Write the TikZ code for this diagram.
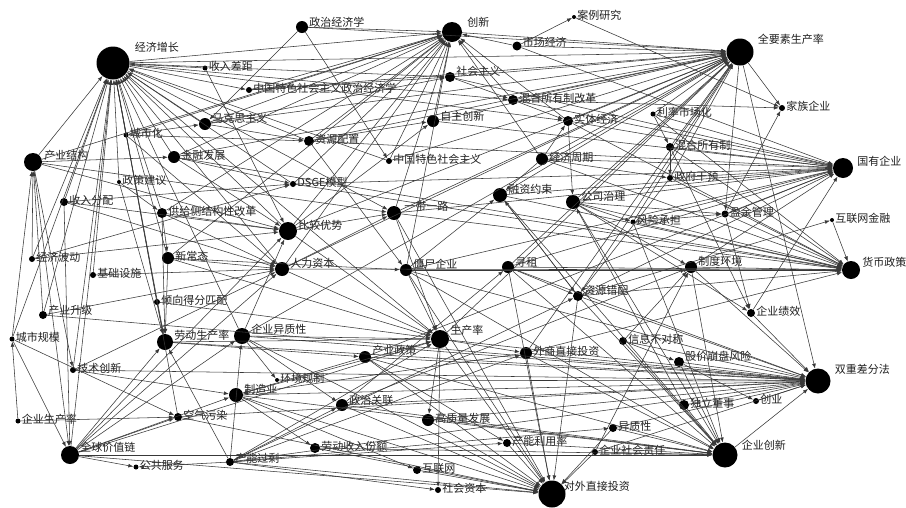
\documentclass[tikz,border=0pt]{standalone}
\usepackage{fontspec}
\setmainfont{Noto Sans CJK SC}
\usepackage{tikz}
\usetikzlibrary{arrows.meta}

\tikzset{
  dot/.style={circle, fill=black, inner sep=0pt, minimum size=#1},
  lab/.style={font=\fontsize{11}{11}\selectfont, text=black!88, inner sep=1pt, yshift=1.5pt},
  edge/.style={draw=black!78, line width=0.55pt, -{Latex[length=5pt,width=3.8pt]}},
}

\begin{document}
\begin{tikzpicture}[x=1pt,y=-1pt,label distance=0pt]
\path [use as bounding box, fill=white] (0,0) rectangle (906,507);

%% keywords
\node [dot=33pt, label={[lab,shift={(4,-14)}]right:经济增长}] (jjzz) at (113,63) {};
\node [dot=12pt, label={[lab,shift={(0,-3)}]right:政治经济学}] (zzjjx) at (302,27) {};
\node [dot=20pt, label={[lab,shift={(4,-8)}]right:创新}] (cx) at (452,32) {};
\node [dot=4pt, label={[lab]right:案例研究}] (alyj) at (574,17) {};
\node [dot=27pt, label={[lab,shift={(3,-11)}]right:全要素生产率}] (tfp) at (740,52) {};
\node [dot=5pt, label={[lab]right:收入差距}] (srcj) at (205,68) {};
\node [dot=6pt, label={[lab]right:中国特色社会主义政治经济学}] (zgjjx) at (249,90) {};
\node [dot=9pt, label={[lab,shift={(0,-2)}]right:市场经济}] (scjj) at (517,46) {};
\node [dot=10pt, label={[lab,shift={(0,-4)}]right:社会主义}] (shzy) at (450,77) {};
\node [dot=10pt, label={[lab]right:混合所有制改革}] (hhgg) at (513,100) {};
\node [dot=6pt, label={[lab]right:家族企业}] (jzqy) at (782,108) {};
\node [dot=5pt, label={[lab]right:利率市场化}] (llsc) at (653,114) {};
\node [dot=12pt, label={[lab,shift={(0,-4)}]right:马克思主义}] (mks) at (205,124) {};
\node [dot=12pt, label={[lab,shift={(0,-3)}]right:自主创新}] (zzcx) at (433,121) {};
\node [dot=10pt, label={[lab]right:实体经济}] (stjj) at (568,121) {};
\node [dot=10pt, label={[lab]right:资源配置}] (zypz) at (309,141) {};
\node [dot=5pt, label={[lab]right:城市化}] (csh) at (126,135) {};
\node [dot=8pt, label={[lab]right:混合所有制}] (hhsy) at (670,147) {};
\node [dot=6pt, label={[lab]right:中国特色社会主义}] (zgts) at (389,161) {};
\node [dot=12pt, label={[lab]right:经济周期}] (jjzq) at (542,159) {};
\node [dot=20pt, label={[lab,shift={(3,-5)}]right:国有企业}] (gyqy) at (843,168) {};
\node [dot=18pt, label={[lab,shift={(1,-5)}]right:产业结构}] (cyjg) at (33,162) {};
\node [dot=12pt, label={[lab]right:金融发展}] (jrfz) at (174,157) {};
\node [dot=4pt, label={[lab]right:政策建议}] (zcjy) at (119,182) {};
\node [dot=6pt, label={[lab]right:政府干预}] (zfgy) at (670,178) {};
\node [dot=6pt, label={[lab]right:DSGE模型}] (dsge) at (293,184) {};
\node [dot=8pt, label={[lab]right:收入分配}] (srfp) at (64,202) {};
\node [dot=14pt, label={[lab,shift={(0,-4)}]right:融资约束}] (rzys) at (500,195) {};
\node [dot=14pt, label={[lab,shift={(0,-4)}]right:公司治理}] (gszl) at (573,202) {};
\node [dot=10pt, label={[lab]right:供给侧结构性改革}] (gjc) at (162,213) {};
\node [dot=14pt, label={[lab,shift={(2,-5)}]right:一带一路}] (ydyl) at (394,213) {};
\node [dot=5pt, label={[lab]right:风险承担}] (fxcd) at (633,222) {};
\node [dot=7pt, label={[lab]right:盈余管理}] (yygl) at (725,214) {};
\node [dot=4pt, label={[lab]right:互联网金融}] (hljr) at (832,220) {};
\node [dot=18pt, label={[lab,shift={(0,-4)}]right:比较优势}] (bjys) at (288,231) {};
\node [dot=12pt, label={[lab]right:新常态}] (xct) at (168,258) {};
\node [dot=6pt, label={[lab]right:经济波动}] (jjbd) at (32,259) {};
\node [dot=6pt, label={[lab]right:基础设施}] (jcss) at (93,275) {};
\node [dot=14pt, label={[lab,shift={(0,-4)}]right:人力资本}] (rlzb) at (282,269) {};
\node [dot=12pt, label={[lab,shift={(0,-4)}]right:僵尸企业}] (jsqy) at (406,270) {};
\node [dot=12pt, label={[lab,shift={(0,-3)}]right:寻租}] (xz) at (508,267) {};
\node [dot=12pt, label={[lab,shift={(0,-4)}]right:制度环境}] (zdhj) at (691,267) {};
\node [dot=18pt, label={[lab,shift={(1,-6)}]right:货币政策}] (hbzc) at (851,270) {};
\node [dot=6pt, label={[lab]right:倾向得分匹配}] (qxpp) at (157,302) {};
\node [dot=10pt, label={[lab,shift={(0,-4)}]right:资源错配}] (zycp) at (578,296) {};
\node [dot=8pt, label={[lab,shift={(0,-3)}]right:产业升级}] (cysj) at (43,315) {};
\node [dot=8pt, label={[lab]right:企业绩效}] (qyjx) at (751,313) {};
\node [dot=5pt, label={[lab]right:城市规模}] (csgm) at (12,339) {};
\node [dot=16pt, label={[lab,shift={(0,-5)}]right:劳动生产率}] (ldscl) at (165,342) {};
\node [dot=16pt, label={[lab,shift={(0,-5)}]right:企业异质性}] (qyyz) at (242,336) {};
\node [dot=18pt, label={[lab,shift={(0,-7)}]right:生产率}] (scl) at (440,339) {};
\node [dot=12pt, label={[lab,shift={(0,-5)}]right:产业政策}] (cyzc) at (365,357) {};
\node [dot=12pt, label={[lab]right:外商直接投资}] (wzzt) at (526,353) {};
\node [dot=8pt, label={[lab]right:信息不对称}] (xxbd) at (623,341) {};
\node [dot=10pt, label={[lab,shift={(0,-4)}]right:股价崩盘风险}] (gjbp) at (679,362) {};
\node [dot=25pt, label={[lab,shift={(3,-10)}]right:双重差分法}] (scff) at (818,381) {};
\node [dot=6pt, label={[lab]right:技术创新}] (jscx) at (73,370) {};
\node [dot=14pt, label={[lab,shift={(0,-4)}]right:制造业}] (zzy) at (236,395) {};
\node [dot=4pt, label={[lab]right:环境规制}] (hjgz) at (277,380) {};
\node [dot=10pt, label={[lab]right:独立董事}] (dlds) at (684,405) {};
\node [dot=6pt, label={[lab]right:创业}] (cy) at (756,401) {};
\node [dot=12pt, label={[lab,shift={(0,-3)}]right:政治关联}] (zzgl) at (342,405) {};
\node [dot=5pt, label={[lab]right:企业生产率}] (qyscl) at (18,421) {};
\node [dot=8pt, label={[lab]right:空气污染}] (kqwr) at (178,417) {};
\node [dot=12pt, label={[lab]right:高质量发展}] (gzl) at (428,420) {};
\node [dot=8pt, label={[lab]right:异质性}] (yzx) at (613,428) {};
\node [dot=18pt, label={[lab,shift={(0,-6)}]right:全球价值链}] (qjlz) at (70,455) {};
\node [dot=10pt, label={[lab]right:劳动收入份额}] (ldsr) at (315,448) {};
\node [dot=8pt, label={[lab]right:产能利用率}] (cnly) at (507,443) {};
\node [dot=6pt, label={[lab]right:企业社会责任}] (qyzr) at (595,452) {};
\node [dot=25pt, label={[lab,shift={(3,-8)}]right:企业创新}] (qycx) at (725,455) {};
\node [dot=5pt, label={[lab]right:公共服务}] (ggfw) at (136,467) {};
\node [dot=8pt, label={[lab,shift={(0,-2)}]right:产能过剩}] (cngs) at (230,462) {};
\node [dot=8pt, label={[lab]right:互联网}] (hlw) at (417,470) {};
\node [dot=6pt, label={[lab]right:社会资本}] (shzb) at (438,490) {};
\node [dot=27pt, label={[lab,shift={(-3,-6)}]right:对外直接投资}] (dwzt) at (552,494) {};

%% links into the hubs
\foreach \s in {cyjg,srfp,jjbd,cysj,csgm,qjlz,ldscl,xct,gjc,csh,jrfz,zcjy,jcss,jscx,qxpp,srcj,mks,zypz,bjys,rlzb,dsge,zgts,qyyz,kqwr}
  \draw [edge] (\s) -- (jjzz);
\foreach \t in {cx,tfp,shzy,hhgg,stjj,zgjjx,ydyl,scl}
  \draw [edge] (jjzz) -- (\t);
\foreach \s in {zzjjx,zgjjx,mks,zypz,jrfz,csh,zgts,bjys,rlzb,zzcx,ydyl,dsge,gjc,scjj,hhgg,stjj,jjzq,jsqy,cyjg,xct}
  \draw [edge] (\s) -- (cx);
\foreach \s in {cx,zzjjx,scjj,shzy,hhgg,stjj,llsc,hhsy,jjzq,zzcx,zypz,zgts,rzys,gszl,ydyl,xz,fxcd,zycp,scl,wzzt,bjys,rlzb,qyyz,zfgy,zgjjx,mks,jrfz}
  \draw [edge] (\s) -- (tfp);
\foreach \t in {jzqy,scff,yygl}
  \draw [edge] (tfp) -- (\t);
\foreach \s in {hhgg,stjj,hhsy,scjj,zfgy,gszl,jjzq,llsc,fxcd,yygl,rzys,jsqy,zzcx,ydyl,xz,zycp,cyzc,shzy,zdhj,qyjx,zypz,dsge}
  \draw [edge] (\s) -- (gyqy);
\foreach \s in {jsqy,zdhj,fxcd,gszl,rzys,ydyl,jjzq,stjj,zycp,yygl,hljr,llsc,hhsy,zfgy,xz,rlzb,wzzt,dsge,jrfz}
  \draw [edge] (\s) -- (hbzc);
\foreach \s in {gjbp,cy,dlds,xxbd,qyjx,zdhj,zycp,scl,cyzc,hjgz,zzy,qyyz,zzgl,wzzt,gzl,kqwr,yzx,qyzr,cngs,jsqy,xz,ldscl,qycx,cysj,jscx}
  \draw [edge] (\s) -- (scff);
\foreach \s in {yzx,qyzr,cnly,dlds,gjbp,xxbd,zdhj,gzl,zzgl,ldsr,rzys,gszl,wzzt,cyzc,jsqy,xz,zycp,fxcd,qjlz,zzy}
  \draw [edge] (\s) -- (qycx);
\foreach \s in {cnly,gzl,zzgl,zzy,qjlz,cyzc,wzzt,scl,qyyz,ldsr,kqwr,zycp,xz,jsqy,qyzr,yzx,ydyl,cngs,hlw}
  \draw [edge] (\s) -- (dwzt);
\foreach \s in {qyyz,ldscl,rlzb,bjys,xct,jsqy,ydyl,qjlz,cngs,zzy,qxpp}
  \draw [edge] (\s) -- (scl);
\foreach \s in {qjlz,cyjg,srfp,gjc,jrfz,srcj,jjbd,qyyz}
  \draw [edge] (\s) -- (bjys);
\foreach \s in {jcss,cysj,xct,gjc,qjlz,srfp,csh,jscx}
  \draw [edge] (\s) -- (rlzb);

%% other links
\draw [edge] (scjj) -- (alyj);
\draw [edge] (alyj) -- (jzqy);
\draw [edge] (hhgg) -- (jzqy);
\draw [edge] (yygl) -- (jzqy);
\draw [edge] (zycp) -- (hljr);
\draw [edge] (xxbd) -- (gjbp);
\draw [edge] (gjbp) -- (cy);
\draw [edge] (xxbd) -- (zdhj);
\draw [edge] (gszl) -- (zdhj);
\draw [edge] (zzgl) -- (zdhj);
\draw [edge] (qyzr) -- (zdhj);
\draw [edge] (gszl) -- (qyjx);
\draw [edge] (yygl) -- (qyjx);
\draw [edge] (hhsy) -- (qyjx);
\draw [edge] (cngs) -- (yzx);
\draw [edge] (cngs) -- (cnly);
\draw [edge] (cyzc) -- (cnly);
\draw [edge] (scl) -- (gzl);
\draw [edge] (scl) -- (shzb);
\draw [edge] (cngs) -- (shzb);
\draw [edge] (zzy) -- (hlw);
\draw [edge] (zzy) -- (ldsr);
\draw [edge] (cngs) -- (ggfw);
\draw [edge] (qjlz) -- (ggfw);
\draw [edge] (qyscl) -- (kqwr);
\draw [edge] (qjlz) -- (kqwr);
\draw [edge] (csgm) -- (kqwr);
\draw [edge] (qyscl) -- (csgm);
\draw [edge] (cyzc) -- (zzy);
\draw [edge] (wzzt) -- (zzy);
\draw [edge] (qyyz) -- (hjgz);
\draw [edge] (ldscl) -- (cyzc);
\draw [edge] (scl) -- (wzzt);
\draw [edge] (qyyz) -- (zzgl);
\draw [edge] (gjc) -- (ldscl);
\draw [edge] (xct) -- (ldscl);
\draw [edge] (qxpp) -- (ldscl);
\draw [edge] (zcjy) -- (ldscl);
\draw [edge] (qjlz) -- (ldscl);
\draw [edge] (cngs) -- (ldscl);
\draw [edge] (gjc) -- (xct);
\draw [edge] (zcjy) -- (gjc);
\draw [edge] (cyjg) -- (jrfz);
\draw [edge] (jjbd) -- (dsge);
\draw [edge] (jrfz) -- (dsge);
\draw [edge] (srfp) -- (dsge);
\draw [edge] (bjys) -- (ydyl);
\draw [edge] (rlzb) -- (ydyl);
\draw [edge] (cyjg) -- (ydyl);
\draw [edge] (zypz) -- (jsqy);
\draw [edge] (xct) -- (jsqy);
\draw [edge] (jsqy) -- (rzys);
\draw [edge] (zycp) -- (rzys);
\draw [edge] (jjzq) -- (rzys);
\draw [edge] (stjj) -- (gszl);
\draw [edge] (dlds) -- (gszl);
\draw [edge] (zzgl) -- (xz);
\draw [edge] (jjzq) -- (stjj);
\draw [edge] (hhgg) -- (stjj);
\draw [edge] (shzy) -- (hhgg);
\draw [edge] (mks) -- (shzy);
\draw [edge] (zgjjx) -- (shzy);
\draw [edge] (zypz) -- (zzcx);
\draw [edge] (bjys) -- (zzcx);
\draw [edge] (mks) -- (zypz);
\draw [edge] (csh) -- (zypz);
\draw [edge] (csh) -- (mks);
\draw [edge] (zzjjx) -- (mks);
\draw [edge] (zzjjx) -- (zgts);
\draw [edge] (llsc) -- (hhsy);
\draw [edge] (hhsy) -- (zfgy);
\draw [edge] (jjzq) -- (zfgy);
\draw [edge] (gszl) -- (fxcd);
\draw [edge] (gszl) -- (yygl);
\draw [edge] (fxcd) -- (yygl);
\draw [edge] (zfgy) -- (zycp);
\draw [edge] (xz) -- (zycp);
\draw [edge] (rzys) -- (zycp);
\draw [edge] (csgm) -- (cyjg);
\draw [edge] (jjbd) -- (cyjg);
\draw [edge] (cysj) -- (cyjg);
\draw [edge] (cyjg) -- (jscx);
\draw [edge] (csgm) -- (qjlz);
\draw [edge] (cyjg) -- (qjlz);
\draw [edge] (srfp) -- (qjlz);
\draw [edge] (qjlz) -- (qyyz);
\draw [edge] (cngs) -- (qyyz);
\draw [edge] (cngs) -- (zzgl);
\draw [edge] (cngs) -- (wzzt);
\draw [edge] (cngs) -- (zycp);
\draw [edge] (qjlz) -- (zzy);
\draw [edge] (jscx) -- (zzy);

\end{tikzpicture}
\end{document}
